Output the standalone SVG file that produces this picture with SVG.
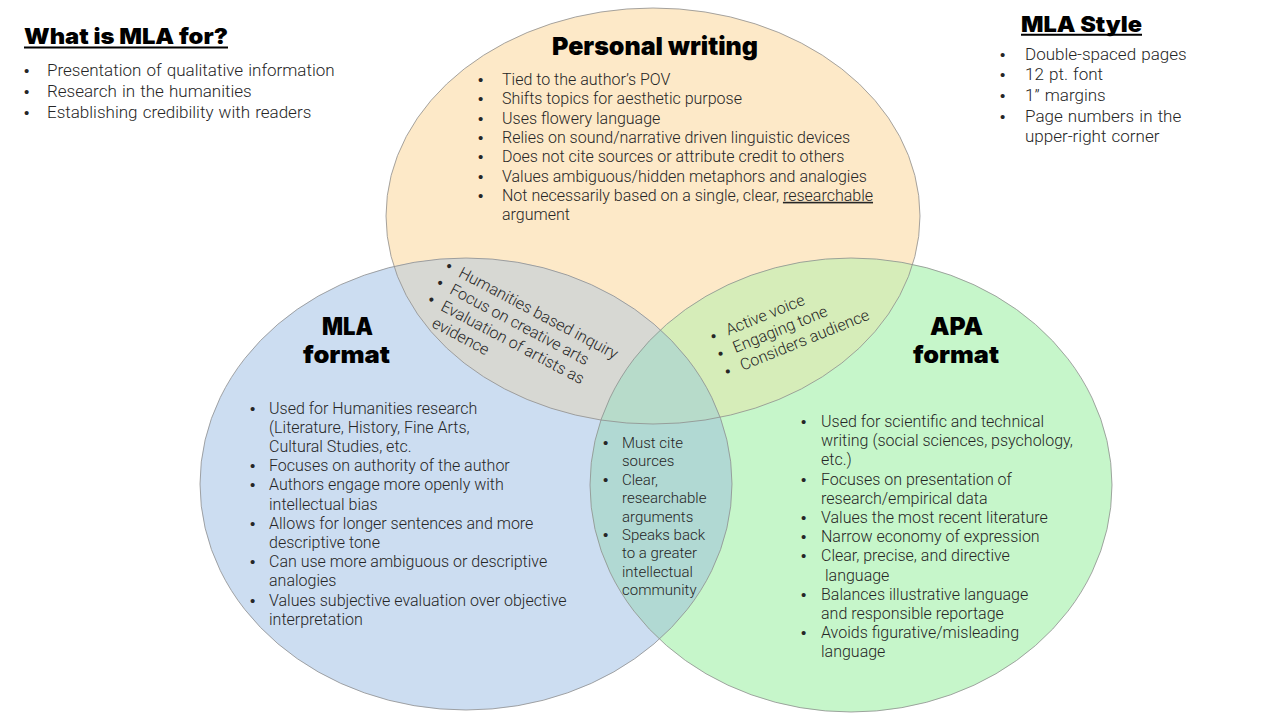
<svg xmlns="http://www.w3.org/2000/svg" width="1280" height="720" viewBox="0 0 1280 720">
<style>
.b{font-family:Roboto,"Liberation Sans",sans-serif;font-weight:300;font-size:16px;fill:#262626}
.c{font-size:15px}
.e{font-size:17px;word-spacing:1px}
.d{font-family:"Liberation Sans",Arial,sans-serif;font-size:15px;fill:#262626}
.h{font-family:Inter,"Liberation Sans",sans-serif;font-weight:900;fill:#000}
.ol{fill:none;stroke:#8e8e8e;stroke-width:0.8}
</style>
<defs>
<ellipse id="eT" cx="653" cy="216" rx="267" ry="208"/>
<ellipse id="eL" cx="466" cy="484" rx="266" ry="226"/>
<ellipse id="eR" cx="851" cy="485" rx="261" ry="227"/>
<clipPath id="cT"><use href="#eT"/></clipPath>
<clipPath id="cL"><use href="#eL"/></clipPath>
<clipPath id="cR"><use href="#eR"/></clipPath>
</defs>
<rect width="1280" height="720" fill="#fff"/>

<g id="circles">
<use href="#eT" fill="#FDE9C8"/>
<use href="#eL" fill="#CCDDF1"/>
<use href="#eR" fill="#C6F6CA"/>
<use href="#eL" fill="#D7D8D3" clip-path="url(#cT)"/>
<use href="#eR" fill="#D6EDB9" clip-path="url(#cT)"/>
<use href="#eR" fill="#B1D9D3" clip-path="url(#cL)"/>
<g clip-path="url(#cT)"><use href="#eR" fill="#B7DBCA" clip-path="url(#cL)"/></g>
<use href="#eT" class="ol"/>
<use href="#eL" class="ol"/>
<use href="#eR" class="ol"/>
</g>

<g id="what-is-mla">
<text class="h" x="24" y="44" font-size="22" textLength="204" lengthAdjust="spacingAndGlyphs">What is MLA for?</text>
<line x1="24" y1="47.5" x2="228" y2="47.5" stroke="#000" stroke-width="2"/>
<text class="d" x="24" y="76">•</text><text class="b e" x="47" y="76">Presentation of qualitative information</text>
<text class="d" x="24" y="97">•</text><text class="b e" x="47" y="97">Research in the humanities</text>
<text class="d" x="24" y="118">•</text><text class="b e" x="47" y="118">Establishing credibility with readers</text>
</g>

<g id="mla-style">
<text class="h" x="1021" y="32" font-size="22" textLength="121" lengthAdjust="spacingAndGlyphs">MLA Style</text>
<line x1="1021" y1="34.8" x2="1142" y2="34.8" stroke="#000" stroke-width="2"/>
<text class="d" x="1000" y="60">•</text><text class="b e" x="1025" y="60">Double-spaced pages</text>
<text class="d" x="1000" y="80">•</text><text class="b e" x="1025" y="80">12 pt. font</text>
<text class="d" x="1000" y="101">•</text><text class="b e" x="1025" y="101">1” margins</text>
<text class="d" x="1000" y="122">•</text><text class="b e" x="1025" y="122">Page numbers in the</text>
<text class="b e" x="1025" y="142">upper-right corner</text>
</g>

<g id="personal-writing">
<text class="h" x="552" y="55" font-size="25" textLength="206" lengthAdjust="spacingAndGlyphs">Personal writing</text>
<text class="d" x="478" y="85">•</text><text class="b" x="502" y="85">Tied to the author’s POV</text>
<text class="d" x="478" y="104.3">•</text><text class="b" x="502" y="104.3">Shifts topics for aesthetic purpose</text>
<text class="d" x="478" y="123.6">•</text><text class="b" x="502" y="123.6">Uses flowery language</text>
<text class="d" x="478" y="142.9">•</text><text class="b" x="502" y="142.9">Relies on sound/narrative driven linguistic devices</text>
<text class="d" x="478" y="162.2">•</text><text class="b" x="502" y="162.2">Does not cite sources or attribute credit to others</text>
<text class="d" x="478" y="181.5">•</text><text class="b" x="502" y="181.5">Values ambiguous/hidden metaphors and analogies</text>
<text class="d" x="478" y="200.8">•</text><text class="b" x="502" y="200.8">Not necessarily based on a single, clear, <tspan text-decoration="underline">researchable</tspan></text>
<text class="b" x="502" y="220.1">argument</text>
</g>

<g id="mla-format">
<text class="h" x="322" y="335" font-size="24" textLength="51" lengthAdjust="spacingAndGlyphs">MLA</text>
<text class="h" x="303" y="363" font-size="24" textLength="87" lengthAdjust="spacingAndGlyphs">format</text>
<text class="d" x="250" y="413.5">•</text><text class="b" x="269" y="413.5">Used for Humanities research</text>
<text class="b" x="269" y="432.7">(Literature, History, Fine Arts,</text>
<text class="b" x="269" y="451.9">Cultural Studies, etc.</text>
<text class="d" x="250" y="471.1">•</text><text class="b" x="269" y="471.1">Focuses on authority of the author</text>
<text class="d" x="250" y="490.3">•</text><text class="b" x="269" y="490.3">Authors engage more openly with</text>
<text class="b" x="269" y="509.5">intellectual bias</text>
<text class="d" x="250" y="528.7">•</text><text class="b" x="269" y="528.7">Allows for longer sentences and more</text>
<text class="b" x="269" y="547.9">descriptive tone</text>
<text class="d" x="250" y="567.1">•</text><text class="b" x="269" y="567.1">Can use more ambiguous or descriptive</text>
<text class="b" x="269" y="586.3">analogies</text>
<text class="d" x="250" y="605.5">•</text><text class="b" x="269" y="605.5">Values subjective evaluation over objective</text>
<text class="b" x="269" y="624.7">interpretation</text>
</g>

<g id="apa-format">
<text class="h" x="930" y="335" font-size="24" textLength="53" lengthAdjust="spacingAndGlyphs">APA</text>
<text class="h" x="913" y="363" font-size="24" textLength="86" lengthAdjust="spacingAndGlyphs">format</text>
<text class="d" x="801" y="427">•</text><text class="b" x="821" y="427">Used for scientific and technical</text>
<text class="b" x="821" y="446.2">writing (social sciences, psychology,</text>
<text class="b" x="821" y="465.4">etc.)</text>
<text class="d" x="801" y="484.6">•</text><text class="b" x="821" y="484.6">Focuses on presentation of</text>
<text class="b" x="821" y="503.8">research/empirical data</text>
<text class="d" x="801" y="523">•</text><text class="b" x="821" y="523">Values the most recent literature</text>
<text class="d" x="801" y="542.2">•</text><text class="b" x="821" y="542.2">Narrow economy of expression</text>
<text class="d" x="801" y="561.4">•</text><text class="b" x="821" y="561.4">Clear, precise, and directive</text>
<text class="b" x="825" y="580.6">language</text>
<text class="d" x="801" y="599.8">•</text><text class="b" x="821" y="599.8">Balances illustrative language</text>
<text class="b" x="821" y="619">and responsible reportage</text>
<text class="d" x="801" y="638.2">•</text><text class="b" x="821" y="638.2">Avoids figurative/misleading</text>
<text class="b" x="821" y="657.4">language</text>
</g>

<g id="mla-personal">
<g transform="translate(447,270.5) rotate(28)">
<text class="d" x="-2.8" y="0">•</text><text class="b" x="12" y="0">Humanities based inquiry</text>
<text class="d" x="-2.8" y="19">•</text><text class="b" x="12" y="19">Focus on creative arts</text>
<text class="d" x="-2.8" y="38">•</text><text class="b" x="12" y="38">Evaluation of artists as</text>
<text class="b" x="12" y="57">evidence</text>
</g>
</g>

<g id="personal-apa">
<g transform="translate(715.5,340.7) rotate(-22)">
<text class="d" x="-2.8" y="0">•</text><text class="b" x="14" y="0">Active voice</text>
<text class="d" x="-2.8" y="19">•</text><text class="b" x="14" y="19">Engaging tone</text>
<text class="d" x="-2.8" y="38">•</text><text class="b" x="14" y="38">Considers audience</text>
</g>
</g>

<g id="mla-apa">
<text class="d" x="603" y="448">•</text><text class="b c" x="622" y="448">Must cite</text>
<text class="b c" x="622" y="466.4">sources</text>
<text class="d" x="603" y="484.8">•</text><text class="b c" x="622" y="484.8">Clear,</text>
<text class="b c" x="622" y="503.2">researchable</text>
<text class="b c" x="622" y="521.6">arguments</text>
<text class="d" x="603" y="540">•</text><text class="b c" x="622" y="540">Speaks back</text>
<text class="b c" x="622" y="558.4">to a greater</text>
<text class="b c" x="622" y="576.8">intellectual</text>
<text class="b c" x="622" y="595.2">community</text>
</g>
<g id="connectors"/>
</svg>
